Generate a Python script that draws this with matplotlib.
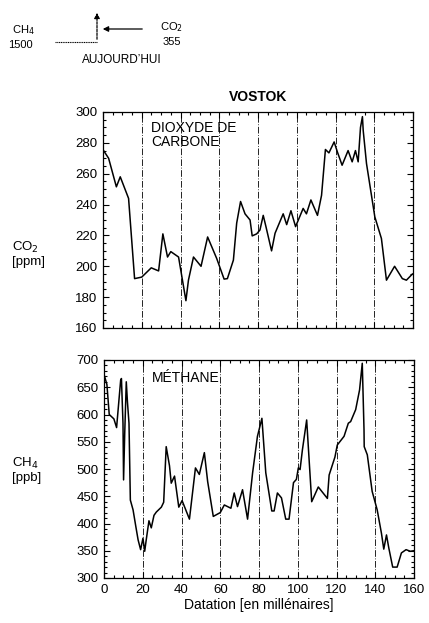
import matplotlib
matplotlib.use("Agg")
import matplotlib.pyplot as plt
from matplotlib.ticker import MultipleLocator

plt.rcParams['font.family'] = ['Liberation Sans', 'DejaVu Sans']

# CO2 record (kyr BP, ppm)
co2_age = [0.3, 2.9, 6.9, 8.9, 13.2, 16.3, 20, 24.9, 28.7, 30.9, 33.3, 35, 39, 42.8, 44.1,
           46.7, 50.6, 54, 58.7, 62.5, 64.2, 67.3, 69, 71, 73.3, 75.9, 77, 79.3, 81, 82.7,
           84.1, 87, 88.8, 93, 94.8, 97, 99.4, 103.3, 105, 107.3, 110.7, 112.8, 114.8,
           116.6, 119.3, 121, 123.4, 126.5, 128.6, 130.3, 131.7, 132.9, 133.9, 134.3, 136,
           140.3, 143.7, 146.3, 150.5, 154.5, 156.6, 159.7]
co2_val = [275, 270, 251.5, 258, 244, 192, 193, 199, 197, 221, 206, 209.5, 206, 177.7, 191,
           206, 200, 219, 205, 191.7, 192, 204, 228, 242, 234, 230, 219.7, 221, 223.5, 233,
           225.7, 210, 221.4, 234, 227, 236, 225.7, 237.5, 234, 243, 233, 246, 275.7,
           273.5, 280.6, 274, 265.5, 275, 267.7, 275, 267.7, 290, 297, 288, 266.6,
           232, 218, 191, 200, 192, 191, 195]

# CH4 record (kyr BP, ppb)
ch4_age = [0.3, 1.5, 2.7, 5.1, 6.5, 8.6, 9.0, 9.8, 10.1, 10.7, 11.5, 12.1, 12.9, 13.6,
           15, 16.4, 17.6, 18.9, 20.1, 21, 21.8, 23.2, 24.4, 25.8, 27, 29.6, 30.8, 32.1,
           33.8, 34.7, 36.4, 38.6, 40.3, 44.1, 47.2, 49.2, 51.8, 53.5, 56.4, 60, 62.1,
           65.5, 67.2, 68.9, 71.5, 74.1, 76.7, 79.2, 81.5, 83.5, 86.6, 87.8, 89.5, 91.6,
           93.8, 95.5, 97.8, 99.3, 100.3, 101.2, 102.4, 104.6, 107.2, 110.6, 115.3, 116.2,
           119.2, 120.4, 123.9, 126.1, 127.3, 129.9, 131.9, 133.3, 134.2, 134.3, 135.9,
           138.4, 141, 143.2, 144.4, 145.8, 147, 149, 151.3, 153.5, 155.9, 158.1, 159.8]
ch4_val = [670, 655, 600, 592, 576, 663, 666, 584, 480, 566, 660, 623, 584, 443,
           425, 395, 370, 352, 373, 349, 370, 405, 392, 415, 421, 430, 439, 541,
           506, 474, 487, 430, 442, 408, 502, 490, 530, 477, 413, 420, 434,
           428, 456, 431, 462, 408, 493, 560, 593, 493, 423, 423, 456, 447,
           408, 408, 475, 481, 502, 499, 535, 590, 440, 467, 446, 489,
           522, 544, 560, 584, 587, 609, 645, 694, 572, 541, 526,
           459, 425, 382, 353, 379, 355, 320, 320, 346, 352, 349, 350]

grid_ages = [20, 40, 60, 80, 100, 120, 140]
x_ticks = [0, 20, 40, 60, 80, 100, 120, 140, 160]
co2_ticks = [160, 180, 200, 220, 240, 260, 280, 300]
ch4_ticks = [300, 350, 400, 450, 500, 550, 600, 650, 700]

fig = plt.figure(figsize=(4.29, 6.23), dpi=100)
W, H = 429, 623

def ax_rect(l, t, r, b):
    return [l / W, 1 - b / H, (r - l) / W, (b - t) / H]

ax1 = fig.add_axes(ax_rect(103, 112, 413, 328))
ax2 = fig.add_axes(ax_rect(104, 360, 414, 578))

def style(ax):
    ax.tick_params(which='both', direction='in', top=True, right=True, labelsize=9.5,
                   width=0.8, color='black', pad=4)
    ax.tick_params(which='major', length=4)
    ax.tick_params(which='minor', length=2)
    for s in ax.spines.values():
        s.set_linewidth(0.9)
    for g in grid_ages:
        ax.axvline(g, color='black', lw=0.6, ls=(0, (8, 2, 1, 2)), zorder=1)
    ax.set_xlim(0, 160)
    ax.xaxis.set_major_locator(MultipleLocator(20))
    ax.xaxis.set_minor_locator(MultipleLocator(5))

style(ax1)
ax1.plot(co2_age, co2_val, color='black', lw=1.1, zorder=3)
ax1.set_ylim(160, 300)
ax1.set_yticks(co2_ticks)
ax1.yaxis.set_minor_locator(MultipleLocator(5))
ax1.set_xticks(x_ticks)
ax1.set_xticklabels([])
ax1.text(0.155, 0.96, 'DIOXYDE DE\nCARBONE', transform=ax1.transAxes, fontsize=10,
         va='top', ha='left', linespacing=1.0)
ax1.set_title('VOSTOK', fontsize=10, fontweight='bold', pad=8)

style(ax2)
ax2.plot(ch4_age, ch4_val, color='black', lw=1.1, zorder=3)
ax2.set_ylim(300, 700)
ax2.set_yticks(ch4_ticks)
ax2.yaxis.set_minor_locator(MultipleLocator(10))
ax2.set_xticks(x_ticks)
ax2.text(0.155, 0.95, 'MÉTHANE', transform=ax2.transAxes, fontsize=10,
         va='top', ha='left')
ax2.set_xlabel('Datation [en millénaires]', fontsize=10, labelpad=2)

fig.text(12 / W, 1 - 254 / H, 'CO$_2$\n[ppm]', fontsize=9.5, va='center', ha='left',
         linespacing=1.1)
fig.text(12 / W, 1 - 470 / H, 'CH$_4$\n[ppb]', fontsize=9.5, va='center', ha='left',
         linespacing=1.1)

# Inset: present-day values
ov = fig.add_axes([0, 0, 1, 1])
ov.set_xlim(0, W)
ov.set_ylim(H, 0)
ov.axis('off')
ov.text(12, 30, 'CH$_4$', fontsize=8, va='center', ha='left')
ov.text(8, 45, '1500', fontsize=8, va='center', ha='left')
ov.text(160, 27, 'CO$_2$', fontsize=8, va='center', ha='left')
ov.text(163, 42, '355', fontsize=8, va='center', ha='left')
ov.text(122, 60, 'AUJOURD\u2019HUI', fontsize=8.5, va='center', ha='center')
ov.plot([55, 97], [42, 42], color='black', lw=0.8, ls=(0, (1, 0.6)))
ov.annotate('', xy=(97, 10), xytext=(97, 42),
            arrowprops=dict(arrowstyle='-|>', lw=0.9, color='black',
                            linestyle=(0, (2, 1)), mutation_scale=8))
ov.annotate('', xy=(100, 29), xytext=(145, 29),
            arrowprops=dict(arrowstyle='-|>', lw=0.9, color='black', mutation_scale=8))

fig.savefig('out.png', dpi=100)
